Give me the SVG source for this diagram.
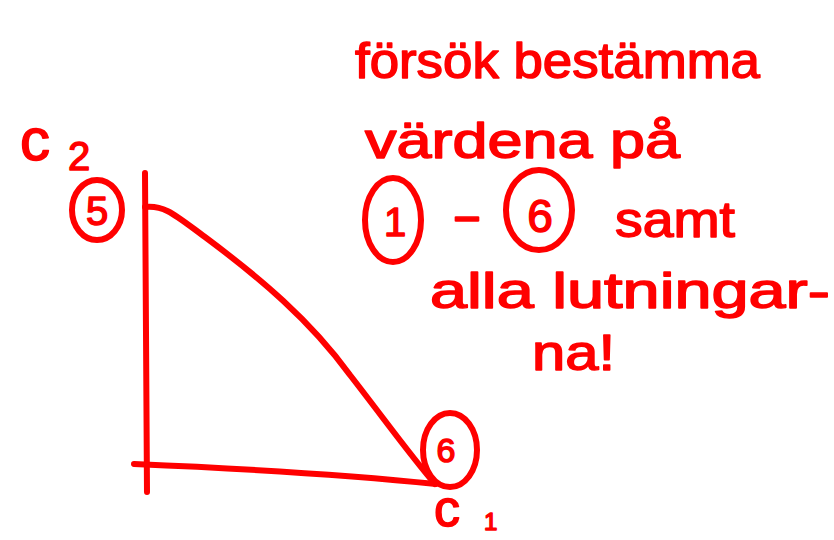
<svg xmlns="http://www.w3.org/2000/svg" width="834" height="540" viewBox="0 0 834 540">
<style>
.ink{fill:none;stroke:#ff0000;stroke-width:6;stroke-linecap:round;stroke-linejoin:round}
.t{font-family:"Liberation Sans","DejaVu Sans",sans-serif;fill:#ff0000;stroke:#ff0000;stroke-width:1.5;stroke-linejoin:round}
</style>
<rect width="834" height="540" fill="#ffffff"/>
<g id="note">
<text class="t" x="355" y="78" font-size="50" textLength="405" lengthAdjust="spacingAndGlyphs">försök bestämma</text>
<text class="t" x="365" y="158" font-size="50" textLength="315" lengthAdjust="spacingAndGlyphs">värdena på</text>
<g id="circ1"><ellipse class="ink" cx="393" cy="220" rx="28" ry="42"/><text class="t" x="395" y="236" font-size="40" text-anchor="middle">1</text></g>
<text class="t" x="452" y="232" font-size="50" textLength="30" lengthAdjust="spacingAndGlyphs">-</text>
<g id="circ6top"><ellipse class="ink" cx="539" cy="210" rx="33" ry="40"/><text class="t" x="540" y="232" font-size="46" text-anchor="middle">6</text></g>
<text class="t" x="615" y="237" font-size="50" textLength="120" lengthAdjust="spacingAndGlyphs">samt</text>
<text class="t" x="430" y="308" font-size="50" textLength="400" lengthAdjust="spacingAndGlyphs">alla lutningar-</text>
<text class="t" x="532" y="370" font-size="50" textLength="83" lengthAdjust="spacingAndGlyphs">na!</text>
</g>
<g id="connectors">
<path class="ink" d="M145 173 L147 492"/>
<path class="ink" d="M134 464 C230 468 340 474 436 484"/>
<path class="ink" d="M145 207 C165 205 175 215 205 237 C260 278 310 320 350 375 C385 420 410 455 435 484"/>
</g>
<g id="c2">
<text class="t" x="20" y="160" font-size="60">c</text>
<text class="t" x="68" y="170" font-size="40">2</text>
</g>
<g id="n5">
<ellipse class="ink" cx="97" cy="210" rx="25" ry="30"/>
<text class="t" x="97" y="225" font-size="40" text-anchor="middle">5</text>
</g>
<g id="n6">
<ellipse class="ink" cx="450" cy="450" rx="27" ry="37"/>
<text class="t" x="446" y="462" font-size="34" text-anchor="middle">6</text>
</g>
<g id="c1">
<text class="t" x="434" y="526" font-size="52">c</text>
<text class="t" x="484" y="530" font-size="24">1</text>
</g>
</svg>
